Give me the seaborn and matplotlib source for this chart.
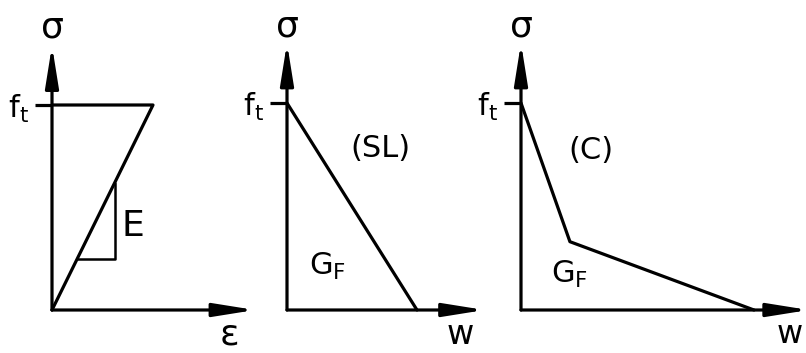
import matplotlib
matplotlib.use("Agg")
import matplotlib.pyplot as plt
import seaborn as sns

sns.set_theme(style="white")
plt.rcParams["font.family"] = ["DejaVu Sans"]
plt.rcParams["mathtext.fontset"] = "dejavusans"
plt.rcParams["text.color"] = "black"
plt.rcParams["ytick.labelcolor"] = "black"

# all stresses normalised by f_t, strains / openings by their value at the kink
# (1) linear elastic: sigma vs strain, with slope triangle for E
strain = [0.0, 1.0, 0.0]
stress_el = [0.0, 1.0, 1.0]
slope_x = [0.25, 0.62, 0.62]
slope_y = [0.25, 0.25, 0.62]

# (2) straight-line softening (SL): sigma vs crack opening w
w_sl = [0.0, 1.0]
s_sl = [1.0, 0.0]

# (3) bilinear softening (C)
w_c = [0.0, 0.21, 1.0]
s_c = [1.0, 0.33, 0.0]

W, H = 806, 353
fig = plt.figure(figsize=(W / 100, H / 100), dpi=100)

LW = 2.3
FS = 22


def make_panel(x0, x1, ox, oy, sx, sy):
    # axes spanning pixels x0..x1, origin of the diagram at pixel (ox, oy)
    ax = fig.add_axes([x0 / W, 0, (x1 - x0) / W, 1])
    ax.set_xlim((x0 - ox) / sx, (x1 - ox) / sx)
    ax.set_ylim((oy - H) / sy, oy / sy)
    for sp in ax.spines.values():
        sp.set_visible(False)
    ax.spines["left"].set_position(("data", 0))
    ax.set_xticks([])
    ax.set_yticks([1.0], [r"$\mathrm{f_t}$"])
    ax.tick_params(axis="y", left=True, length=12.5, width=LW, color="black",
                   pad=4, labelsize=FS, labelcolor="black")
    ax.grid(False)
    return ax


def axis_arrows(ax, xtip, ytip):
    style = "-|>,head_length=2.5,head_width=0.4"
    for tip in [(xtip, 0), (0, ytip)]:
        ax.annotate("", xy=tip, xytext=(0, 0), annotation_clip=False,
                    arrowprops=dict(arrowstyle=style, mutation_scale=10, lw=LW,
                                    color="black", shrinkA=0, shrinkB=0))


def curve(ax, x, y, lw=LW):
    sns.lineplot(x=x, y=y, sort=False, estimator=None, color="black", lw=lw, ax=ax)
    ax.set(xlabel="", ylabel="")


# panel 1
ax1 = make_panel(0, 262, 52, 310, 101, 205)
axis_arrows(ax1, 2.01, 1.29)
curve(ax1, strain, stress_el)
curve(ax1, slope_x, slope_y, lw=1.8)
ax1.text(0.80, 0.41, "E", fontsize=26, ha="center", va="center")
ax1.text(0, 1.38, "σ", fontsize=26, ha="center", va="center")
ax1.text(1.76, -0.12, "ε", fontsize=26, ha="center", va="center")

# panel 2
ax2 = make_panel(262, 497, 287, 310, 130, 207)
axis_arrows(ax2, 1.52, 1.29)
curve(ax2, w_sl, s_sl)
ax2.text(0.72, 0.78, "(SL)", fontsize=FS, ha="center", va="center")
ax2.text(0.31, 0.21, r"$\mathrm{G_F}$", fontsize=FS, ha="center", va="center")
ax2.text(0, 1.37, "σ", fontsize=26, ha="center", va="center")
ax2.text(1.33, -0.12, "w", fontsize=24, ha="center", va="center")

# panel 3
ax3 = make_panel(497, 806, 521, 310, 233, 207)
axis_arrows(ax3, 1.235, 1.29)
curve(ax3, w_c, s_c)
ax3.text(0.30, 0.77, "(C)", fontsize=FS, ha="center", va="center")
ax3.text(0.21, 0.17, r"$\mathrm{G_F}$", fontsize=FS, ha="center", va="center")
ax3.text(0, 1.37, "σ", fontsize=26, ha="center", va="center")
ax3.text(1.155, -0.12, "w", fontsize=23, ha="center", va="center")

fig.savefig("out.png", dpi=100, facecolor="white")
